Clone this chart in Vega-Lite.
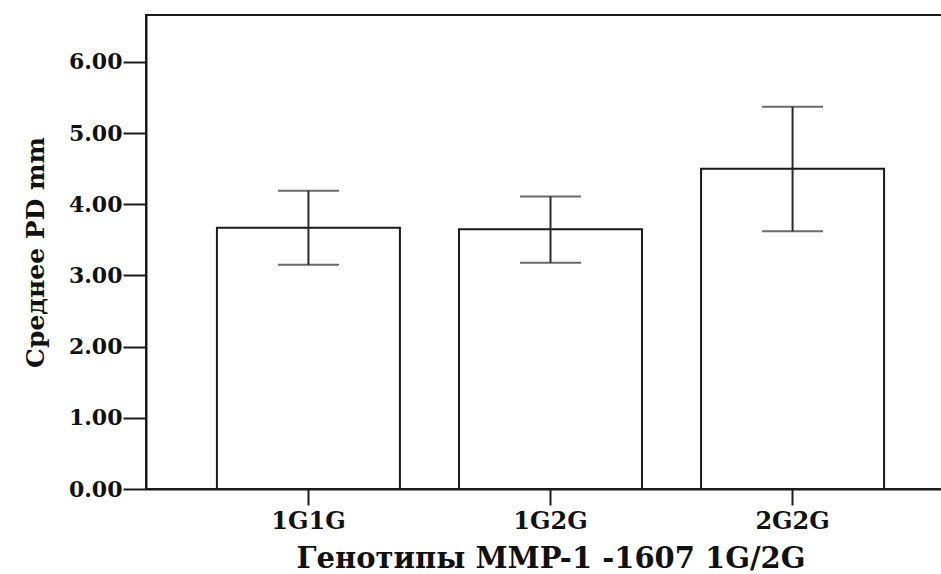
{
  "$schema": "https://vega.github.io/schema/vega-lite/v6.json",
  "width": 809,
  "height": 474,
  "autosize": {"type": "none"},
  "padding": {"left": 146, "top": 15, "right": 0, "bottom": 85},
  "background": "white",
  "config": {
    "view": {"stroke": "#1a1a1a", "strokeWidth": 2},
    "axis": {
      "grid": false,
      "domainColor": "#1a1a1a",
      "domainWidth": 2,
      "tickColor": "#1a1a1a",
      "tickWidth": 2,
      "labelColor": "#111",
      "titleColor": "#111",
      "labelFont": "DejaVu Serif",
      "labelFontWeight": "bold",
      "titleFont": "DejaVu Serif",
      "titleFontWeight": "bold"
    }
  },
  "data": {
    "values": [
      {"genotype": "1G1G", "mean": 3.67, "lo": 3.15, "hi": 4.19},
      {"genotype": "1G2G", "mean": 3.65, "lo": 3.18, "hi": 4.11},
      {"genotype": "2G2G", "mean": 4.50, "lo": 3.62, "hi": 5.37}
    ]
  },
  "encoding": {
    "x": {
      "field": "genotype",
      "type": "nominal",
      "sort": ["1G1G", "1G2G", "2G2G"],
      "scale": {"paddingInner": 0.244, "paddingOuter": 0.293},
      "axis": {
        "labelAngle": 0,
        "labelFontSize": 24,
        "tickSize": 16,
        "labelPadding": 4,
        "titleFontSize": 29,
        "titleBaseline": "alphabetic",
        "titleY": 78
      },
      "title": "Генотипы MMP-1 -1607 1G/2G"
    }
  },
  "layer": [
    {
      "mark": {"type": "bar", "fill": "white", "stroke": "#1a1a1a", "strokeWidth": 2},
      "encoding": {
        "y": {
          "field": "mean",
          "type": "quantitative",
          "scale": {"domain": [0, 6.66], "nice": false, "zero": true},
          "axis": {
            "values": [0, 1, 2, 3, 4, 5, 6],
            "format": ".2f",
            "labelFontSize": 22,
            "tickSize": 23,
            "labelPadding": 1,
            "titleFontSize": 25,
            "titlePadding": 20
          },
          "title": "Среднее PD mm"
        }
      }
    },
    {
      "mark": {"type": "rule", "stroke": "#2a2a2a", "strokeWidth": 2},
      "encoding": {
        "y": {"field": "lo", "type": "quantitative"},
        "y2": {"field": "hi"}
      }
    },
    {
      "mark": {"type": "tick", "size": 61, "thickness": 2, "color": "#2a2a2a"},
      "encoding": {"y": {"field": "lo", "type": "quantitative"}}
    },
    {
      "mark": {"type": "tick", "size": 61, "thickness": 2, "color": "#2a2a2a"},
      "encoding": {"y": {"field": "hi", "type": "quantitative"}}
    }
  ]
}
